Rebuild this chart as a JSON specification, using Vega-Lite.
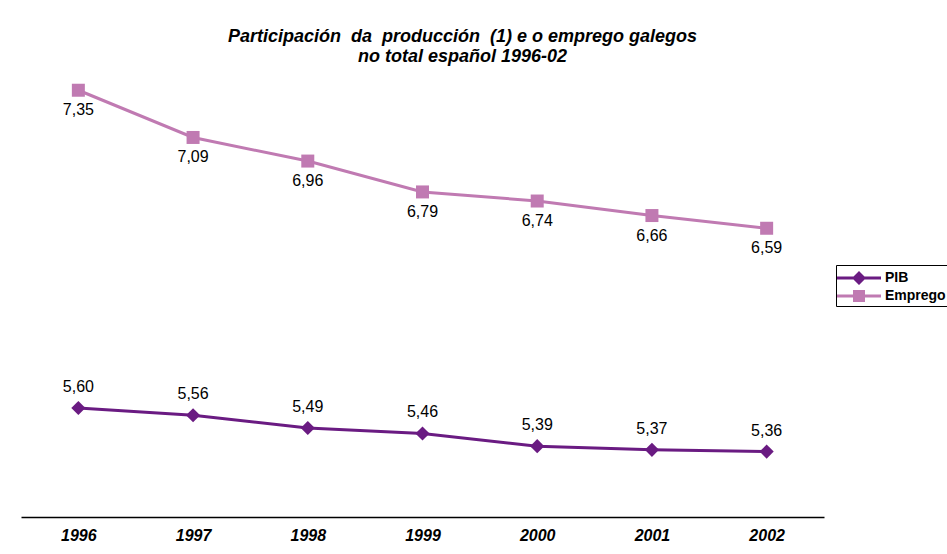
{
  "$schema": "https://vega.github.io/schema/vega-lite/v6.json",
  "width": 803,
  "height": 454,
  "autosize": "none",
  "padding": {"left": 21, "top": 63, "right": 123, "bottom": 37},
  "background": "white",
  "config": {
    "view": {"stroke": null},
    "font": "Liberation Sans",
    "locale": {"number": {"decimal": ",", "thousands": ".", "grouping": [3], "currency": ["", " €"]}}
  },
  "title": {
    "text": ["Participación\u00a0 da\u00a0 producción\u00a0 (1) e o emprego galegos", "no total español 1996-02"],
    "font": "Liberation Sans",
    "fontSize": 18,
    "fontStyle": "italic",
    "fontWeight": "bold",
    "color": "black",
    "anchor": "middle",
    "dx": 40,
    "offset": -3,
    "lineHeight": 20
  },
  "data": {
    "values": [
      {"year": "1996", "serie": "PIB", "value": 5.60},
      {"year": "1997", "serie": "PIB", "value": 5.56},
      {"year": "1998", "serie": "PIB", "value": 5.49},
      {"year": "1999", "serie": "PIB", "value": 5.46},
      {"year": "2000", "serie": "PIB", "value": 5.39},
      {"year": "2001", "serie": "PIB", "value": 5.37},
      {"year": "2002", "serie": "PIB", "value": 5.36},
      {"year": "1996", "serie": "Emprego", "value": 7.35},
      {"year": "1997", "serie": "Emprego", "value": 7.09},
      {"year": "1998", "serie": "Emprego", "value": 6.96},
      {"year": "1999", "serie": "Emprego", "value": 6.79},
      {"year": "2000", "serie": "Emprego", "value": 6.74},
      {"year": "2001", "serie": "Emprego", "value": 6.66},
      {"year": "2002", "serie": "Emprego", "value": 6.59}
    ]
  },
  "encoding": {
    "x": {
      "field": "year",
      "type": "ordinal",
      "scale": {"type": "point", "padding": 0.5},
      "axis": {
        "title": null,
        "labelAngle": 0,
        "ticks": false,
        "grid": false,
        "domainColor": "black",
        "domainWidth": 1.5,
        "labelFont": "Liberation Sans",
        "labelFontSize": 16,
        "labelFontStyle": "italic",
        "labelFontWeight": "bold",
        "labelColor": "black",
        "labelPadding": 10
      }
    },
    "y": {
      "field": "value",
      "type": "quantitative",
      "scale": {"domain": [5, 7.5], "zero": false, "nice": false},
      "axis": null
    },
    "color": {
      "field": "serie",
      "type": "nominal",
      "scale": {"domain": ["PIB", "Emprego"], "range": ["#6A1B82", "#C07AB2"]},
      "legend": {
        "orient": "none",
        "legendX": 815,
        "legendY": 202,
        "title": null,
        "strokeColor": "black",
        "fillColor": "white",
        "padding": 3,
        "symbolType": "M-2.2,-0.15H2.2V0.15H-2.2Z",
        "symbolSize": 400,
        "symbolOffset": 10,
        "labelOffset": 16,
        "rowPadding": 1,
        "labelFont": "Liberation Sans",
        "labelFontSize": 14,
        "labelFontWeight": "bold",
        "labelColor": "black",
        "symbolStrokeWidth": 0,
        "encode": {
          "symbols": {
            "update": {
              "shape": {"signal": "datum.value === 'PIB' ? 'M-2.2,-0.15H2.2V0.15H-2.2Z M0,-0.7L0.7,0L0,0.7L-0.7,0Z' : 'M-2.2,-0.15H2.2V0.15H-2.2Z M-0.6,-0.6H0.6V0.6H-0.6Z'"},
              "fill": {"signal": "datum.value === 'PIB' ? '#6A1B82' : '#C07AB2'"},
              "fillOpacity": {"value": 1},
              "opacity": {"value": 1},
              "strokeWidth": {"value": 0}
            }
          }
        }
      }
    }
  },
  "layer": [
    {
      "mark": {"type": "line", "strokeWidth": 3}
    },
    {
      "transform": [{"filter": "datum.serie === 'PIB'"}],
      "mark": {"type": "point", "filled": true, "opacity": 1, "shape": "diamond", "size": 200}
    },
    {
      "transform": [{"filter": "datum.serie === 'Emprego'"}],
      "mark": {"type": "point", "filled": true, "opacity": 1, "shape": "square", "size": 169}
    },
    {
      "transform": [{"filter": "datum.serie === 'Emprego'"}],
      "mark": {"type": "text", "dy": 20, "fontSize": 16, "font": "Liberation Sans", "color": "black"},
      "encoding": {"text": {"field": "value", "type": "quantitative", "format": ".2f"}, "color": {"value": "black"}}
    },
    {
      "transform": [{"filter": "datum.serie === 'PIB'"}],
      "mark": {"type": "text", "dy": -21, "fontSize": 16, "font": "Liberation Sans", "color": "black"},
      "encoding": {"text": {"field": "value", "type": "quantitative", "format": ".2f"}, "color": {"value": "black"}}
    }
  ]
}
